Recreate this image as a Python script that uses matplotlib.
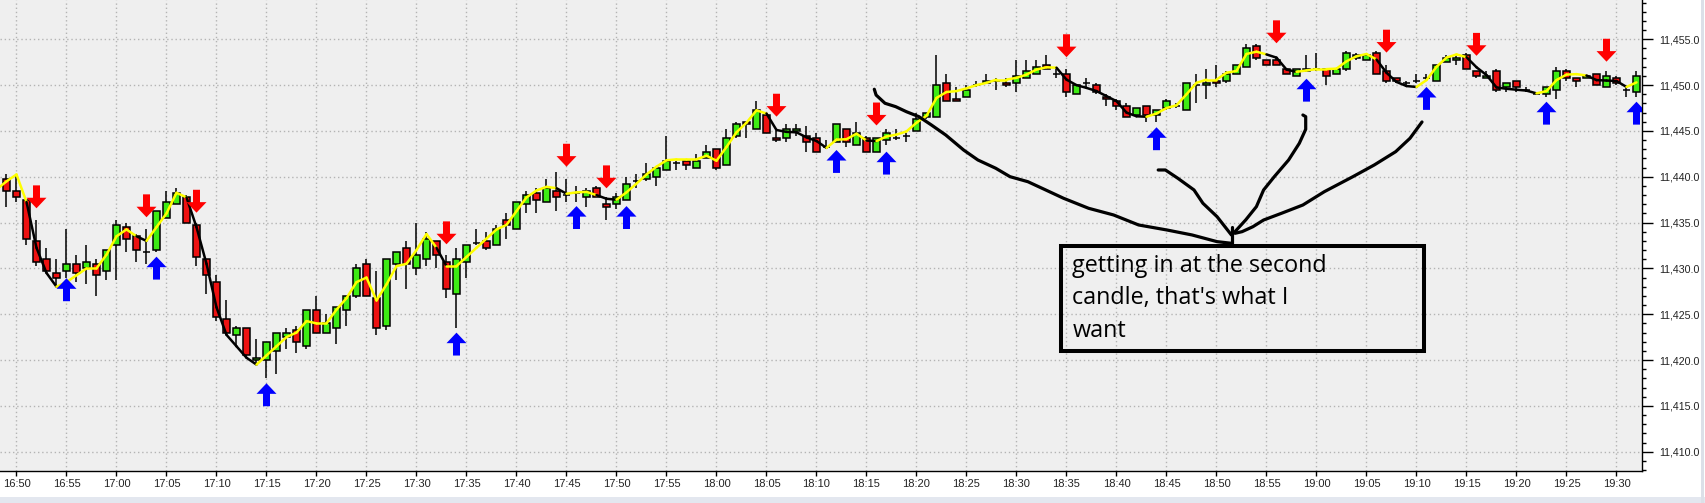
import matplotlib.pyplot as plt
from matplotlib.collections import LineCollection
from matplotlib.patches import Rectangle, Polygon
from matplotlib.ticker import FixedLocator, MultipleLocator, FuncFormatter

# Datos: una vela por minuto, minuto 0 = 16:50

minutes = list(range(-1, 163))

opens = [
    11439.75, 11438.5, 11437.5, 11433, 11431, 11429.5, 11429.75, 11430.5, 11430, 11430.5,
    11429.75, 11432.5, 11434.5, 11433.5, 11431.75, 11432, 11435.5, 11437, 11437.75, 11434.75,
    11431, 11428.5, 11424.5, 11422.75, 11423.5, 11420, 11420, 11421, 11422.5, 11423.25,
    11421.5, 11425.5, 11423, 11423.5, 11425.5, 11427, 11430.5, 11426.75, 11423.75, 11430.5,
    11432.25, 11430, 11431, 11433, 11430.75, 11427.25, 11430.75, 11432.75, 11433, 11432.5,
    11435.25, 11434.25, 11437, 11438.25, 11437.25, 11438.5, 11438, 11438.25, 11437.75, 11438.75,
    11437, 11437, 11437.5, 11439.5, 11439.75, 11440, 11440.75, 11441.5, 11441.75, 11441,
    11442, 11443, 11441.25, 11444.5, 11446, 11445.25, 11446.75, 11444.25, 11444.25, 11445,
    11444.5, 11444.25, 11443.25, 11443.75, 11445.25, 11443.5, 11444.25, 11442.75, 11444, 11444.25,
    11444.5, 11445, 11446.5, 11446.5, 11450.25, 11448.5, 11448.75, 11450, 11450.25, 11450.5,
    11450.25, 11450.25, 11450.75, 11451.25, 11452.25, 11451.25, 11451.25, 11449, 11450.25, 11450,
    11448.75, 11448.25, 11447.75, 11446.75, 11447.75, 11446.75, 11447.5, 11447.75, 11447.25, 11450,
    11450, 11450.5, 11450.5, 11451.25, 11452, 11454.25, 11452.75, 11452.75, 11451.75, 11451,
    11451.5, 11451.75, 11451.75, 11451.25, 11451.75, 11453, 11452.75, 11453.5, 11451.5, 11450.75,
    11450.25, 11450.5, 11450.75, 11450.5, 11452.5, 11452.75, 11453.25, 11451.5, 11450.75, 11451.5,
    11449.75, 11450.5, 11449.5, 11449, 11449, 11449.5, 11451.5, 11450.75, 11450.75, 11451.25,
    11449.75, 11450.75, 11449.5, 11449.25,
]
highs = [
    11440.25, 11440.25, 11437.5, 11435.25, 11432.25, 11431, 11434.25, 11431.5, 11432.5, 11431,
    11432, 11435.25, 11435, 11433.75, 11434.25, 11436.25, 11438.5, 11438.75, 11438, 11435,
    11431, 11429.25, 11426.5, 11423.75, 11423.5, 11422.25, 11422, 11423, 11423.5, 11423.75,
    11425.5, 11427, 11425, 11425.75, 11427, 11430.5, 11431, 11429.75, 11431, 11431.75,
    11433, 11435, 11434, 11433, 11431.5, 11432.25, 11432.5, 11434.25, 11434, 11434.75,
    11436, 11437.25, 11438.5, 11438.75, 11439.75, 11440.5, 11439.75, 11439, 11438.75, 11439,
    11437.75, 11438.25, 11440, 11440.25, 11441.5, 11441, 11444.5, 11441.75, 11441.75, 11442.5,
    11443.5, 11443, 11445.25, 11446, 11446, 11448.25, 11446.75, 11445, 11445.75, 11445.75,
    11445.5, 11444.75, 11444, 11445.75, 11445.25, 11446, 11444.5, 11444.25, 11445.25, 11445.25,
    11444.75, 11447, 11447, 11453.25, 11451.25, 11449.75, 11450, 11450.5, 11451.25, 11450.75,
    11450.75, 11452.75, 11452.75, 11452.75, 11453.25, 11452, 11451.75, 11450, 11450.75, 11450.25,
    11449, 11448.5, 11448, 11447.5, 11447.75, 11447.25, 11448.5, 11448, 11450.25, 11451.25,
    11451.75, 11452.25, 11451.5, 11452.25, 11454.5, 11454.5, 11452.75, 11453, 11451.75, 11451.75,
    11453.25, 11453.5, 11451.75, 11451.75, 11453.75, 11453.5, 11453.5, 11453.75, 11452.25, 11450.75,
    11450.5, 11451.25, 11451.25, 11452.25, 11453.25, 11453.25, 11453.5, 11451.5, 11451.5, 11451.75,
    11450.25, 11450.5, 11449.75, 11449.25, 11449.75, 11452, 11451.75, 11450.75, 11451, 11451.25,
    11451.5, 11451, 11449.75, 11451.5,
]
lows = [
    11436.75, 11437.25, 11432.5, 11430.25, 11429.75, 11428, 11429, 11428.5, 11428.25, 11427,
    11428.75, 11428.75, 11431.75, 11430.75, 11430.5, 11431.75, 11435.5, 11437, 11435, 11430.25,
    11427.25, 11424.25, 11422.75, 11421.5, 11420.25, 11419.5, 11418, 11418.5, 11421.25, 11420.75,
    11421.25, 11423, 11423, 11421.75, 11423.75, 11426.75, 11427, 11422.75, 11423.25, 11428.75,
    11427.75, 11429.25, 11430.25, 11430, 11426.75, 11423.5, 11429, 11432.5, 11432, 11432.5,
    11433.25, 11434.25, 11436, 11436, 11437.25, 11436.25, 11437.25, 11437.25, 11436.75, 11437.75,
    11435.25, 11436.5, 11437.5, 11438.75, 11439.5, 11439, 11440.75, 11440.75, 11440.75, 11441,
    11442, 11440.75, 11441.25, 11444.25, 11444.25, 11445.25, 11444.75, 11443.75, 11443.75, 11444.5,
    11442.75, 11442.75, 11443, 11443.75, 11443.25, 11443.5, 11442.75, 11442.75, 11443.5, 11444,
    11443.75, 11445, 11446.25, 11446.5, 11448.25, 11448.25, 11448.75, 11449.75, 11450.25, 11449.5,
    11449.75, 11449.25, 11450.75, 11451.25, 11451.75, 11450.75, 11448.75, 11449, 11449.75, 11449,
    11447.75, 11447.25, 11446.5, 11446.5, 11446, 11446, 11447.25, 11447.5, 11447.25, 11448,
    11448.5, 11449.75, 11450.25, 11451.25, 11452, 11452.75, 11452.25, 11452.25, 11451.25, 11451,
    11451.5, 11451.5, 11450, 11451.25, 11451.5, 11452.75, 11452.75, 11451.25, 11450.25, 11450.25,
    11449.75, 11450.25, 11450.5, 11450.5, 11452.5, 11452.25, 11451.75, 11450.75, 11450.75, 11449.25,
    11449.25, 11449.25, 11449.25, 11449, 11448.75, 11448.5, 11450.5, 11449.75, 11450.75, 11450,
    11449.75, 11450, 11448.75, 11448.75,
]
closes = [
    11438.5, 11437.75, 11433.25, 11430.75, 11429.75, 11429, 11430.5, 11429.5, 11430.75, 11429.25,
    11432, 11434.75, 11433.25, 11432, 11431.75, 11436.25, 11437.25, 11438.25, 11435, 11431.25,
    11429.25, 11424.75, 11423, 11423.5, 11420.5, 11420.25, 11422, 11423, 11423, 11422,
    11425.5, 11423, 11424, 11425.75, 11427, 11430, 11427, 11423.5, 11431, 11431.75,
    11430.5, 11431.5, 11433.25, 11431.5, 11427.75, 11431, 11432.5, 11432.75, 11432.25, 11434.25,
    11434.75, 11437.25, 11438, 11437.5, 11438.75, 11437.75, 11438, 11438.25, 11438.5, 11437.75,
    11436.75, 11437.75, 11439.25, 11439.5, 11440.25, 11441, 11441.75, 11441.5, 11441.25, 11441.75,
    11442.75, 11441, 11444.25, 11445.75, 11445.75, 11447.25, 11444.75, 11444, 11445.25, 11445.25,
    11443.75, 11442.75, 11443.25, 11445.75, 11443.75, 11444.75, 11442.75, 11444.25, 11444.75, 11444.25,
    11444.5, 11446.25, 11447, 11450, 11448.25, 11448.25, 11449.5, 11450, 11450.5, 11450.5,
    11450, 11451, 11451.5, 11452, 11451.75, 11451.25, 11449.25, 11450, 11450.25, 11449.25,
    11448.5, 11447.75, 11446.5, 11447.5, 11446.75, 11447.25, 11448.25, 11447.75, 11450.25, 11450,
    11450.25, 11450.25, 11451.25, 11452.25, 11454, 11453, 11452.25, 11452.25, 11451.25, 11451.75,
    11451.75, 11451.75, 11451, 11451.75, 11453.5, 11453.25, 11453.25, 11451.25, 11450.5, 11450.5,
    11450.25, 11450.5, 11450.75, 11452.25, 11453, 11453, 11451.75, 11451, 11451, 11449.5,
    11450.25, 11449.75, 11449.5, 11449, 11449.75, 11451.5, 11450.75, 11450.5, 11451, 11450,
    11451, 11450.25, 11449.5, 11451,
]

# Linea suavizada (amarilla subiendo, negra bajando)
line_minutes = list(range(-2, 163))
line_values = [
    11438.6, 11439.5, 11440.25, 11437.25, 11432.25, 11429.5, 11428, 11428.5, 11429.25, 11430,
    11430, 11431.5, 11433.5, 11434.25, 11433.5, 11433, 11434.5, 11436, 11438.25, 11437.75,
    11434.5, 11430.5, 11425.75, 11422.75, 11421.5, 11420.25, 11419.5, 11420.5, 11421.5, 11422.5,
    11423, 11424.25, 11424, 11424, 11425.5, 11426.75, 11428.5, 11429, 11426.5, 11428.25,
    11430.25, 11430.5, 11432, 11433.75, 11432.25, 11430.25, 11430.25, 11431.25, 11432.25, 11433.25,
    11434.25, 11434.75, 11436.25, 11437.75, 11438.5, 11438.9, 11438.75, 11438.15, 11438.3, 11438.35,
    11438, 11437.6, 11437.5, 11438.3, 11439.25, 11440.25, 11441.1, 11441.8, 11441.9, 11441.9,
    11441.9, 11442.3, 11441.75, 11443.25, 11444.85, 11445.9, 11447.25, 11446.9, 11445.1, 11444.9,
    11444.85, 11444.3, 11443.9, 11443.15, 11444.05, 11444.1, 11444.7, 11443.95, 11443.9, 11444.4,
    11444.6, 11444.95, 11445.9, 11446.65, 11448.6, 11449.25, 11449.35, 11449.65, 11450, 11450.25,
    11450.6, 11450.6, 11450.8, 11451.15, 11451.7, 11451.95, 11451.9, 11450.6, 11450, 11449.7,
    11449.35, 11448.8, 11448.25, 11447, 11446.6, 11446.55, 11446.9, 11447.5, 11447.8, 11449,
    11450.25, 11450.6, 11450.6, 11451.35, 11451.55, 11453.4, 11453.65, 11453.35, 11453, 11451.7,
    11451.45, 11451.6, 11451.75, 11451.75, 11451.8, 11452.6, 11453.15, 11453.4, 11452.8, 11451.35,
    11450.35, 11449.9, 11449.8, 11450.55, 11452, 11453, 11453.35, 11453.05, 11451.95, 11451.1,
    11449.75, 11449.6, 11449.5, 11449.4, 11449.1, 11449.35, 11450.55, 11451.15, 11451.2, 11451.05,
    11450.55, 11450.5, 11450.45, 11449.8, 11450.3,
]

# Flechas de senal (minuto, precio de la punta)
sell_minutes = [2, 13, 18, 43, 55, 59, 76, 86, 105, 126, 137, 146, 159]
sell_tips = [11436.56, 11435.58, 11436.08, 11432.63, 11441.1, 11438.74, 11446.56, 11445.6,
             11453.05, 11454.57, 11453.55, 11453.2, 11452.56]
buy_minutes = [5, 14, 25, 44, 56, 61, 82, 87, 114, 129, 141, 153, 162]
buy_tips = [11428.92, 11431.28, 11417.46, 11422.99, 11436.8, 11436.8, 11442.92, 11442.74,
            11445.4, 11450.7, 11449.8, 11448.19, 11448.19]

# Anotacion dibujada a mano (minuto, precio)
stroke_a = [(85.78, 11449.55), (85.96, 11448.92), (86.85, 11448.02), (87.92, 11447.65),
            (88.99, 11447.1), (90.24, 11446.56), (91.49, 11445.65), (92.92, 11444.56),
            (94.71, 11442.92), (96.14, 11441.83), (97.92, 11440.93), (99.35, 11440.01),
            (101.14, 11439.46), (102.92, 11438.56), (104.71, 11437.65), (107.21, 11436.56),
            (109.71, 11435.83), (112.21, 11434.74), (115.05, 11434.19), (117.55, 11433.65),
            (120.05, 11432.92), (121.49, 11432.74)]
stroke_b = [(114.17, 11440.74), (114.89, 11440.74), (116.14, 11439.83), (117.75, 11438.56),
            (118.64, 11437.11), (120.06, 11435.64), (121.49, 11433.65)]
stroke_c = [(128.64, 11446.74), (128.92, 11446.56), (128.92, 11445.18), (128.28, 11443.65),
            (127.21, 11441.83), (125.78, 11440.01), (124.71, 11438.56), (123.99, 11436.74),
            (122.92, 11435.29), (121.85, 11434.01)]
stroke_d = [(140.55, 11445.98), (139.35, 11444.2), (137.92, 11442.74), (135.78, 11441.29),
            (133.64, 11440.01), (130.78, 11438.37), (128.64, 11436.92), (126.49, 11436.01),
            (124.71, 11435.28), (123.64, 11434.55), (122.56, 11434.01), (121.85, 11433.83)]
stroke_tick = [(121.6, 11434.55), (121.6, 11432.74)]
note_lines = ["getting in at the second", "candle, that's what I", "want"]

GREEN = '#3DEB14'
RED = '#EE1111'
BG = '#EFEFEF'


def arrow_shape(m, tip, direction):
    # direction = -1 apunta hacia abajo, +1 hacia arriba
    shaft, head, head_len, total = 0.35, 1.0, 1.15, 2.5
    base = tip - direction * head_len
    tail = tip - direction * total
    return [(m, tip), (m + head, base), (m + shaft, base), (m + shaft, tail),
            (m - shaft, tail), (m - shaft, base), (m - head, base)]


fig = plt.figure(figsize=(17.06, 5.03), dpi=100)
ax = fig.add_axes([0, 32 / 503, 1642 / 1706, 471 / 503])
ax.set_facecolor(BG)
ax.set_xlim(-1.65, 162.55)
ax.set_ylim(11407.89, 11459.29)

# velas
ax.vlines(minutes, lows, highs, color='black', linewidth=1.1, zorder=2)
body_colors = [GREEN if c > o else RED for o, c in zip(opens, closes)]
ax.bar(minutes, [c - o for o, c in zip(opens, closes)], bottom=opens, width=0.64,
       color=body_colors, edgecolor='black', linewidth=1.1, zorder=3)

# linea: negra solo si baja dos tramos seguidos
segments, seg_colors = [], []
for i in range(len(line_values) - 1):
    falling = line_values[i + 1] < line_values[i]
    prev_falling = i > 0 and line_values[i] < line_values[i - 1]
    segments.append([(line_minutes[i], line_values[i]),
                     (line_minutes[i + 1], line_values[i + 1])])
    seg_colors.append('black' if falling and prev_falling else '#FFFF00')
ax.add_collection(LineCollection(segments, colors=seg_colors, linewidths=1.8,
                                 capstyle='round', zorder=4))

# flechas
for m, tip in zip(sell_minutes, sell_tips):
    ax.add_patch(Polygon(arrow_shape(m, tip, -1), closed=True, facecolor='#FF0000',
                         edgecolor='none', zorder=5))
for m, tip in zip(buy_minutes, buy_tips):
    ax.add_patch(Polygon(arrow_shape(m, tip, 1), closed=True, facecolor='#0000FF',
                         edgecolor='none', zorder=5))

# dibujo a mano y recuadro
for stroke in [stroke_a, stroke_b, stroke_c, stroke_d, stroke_tick]:
    xs, ys = zip(*stroke)
    ax.plot(xs, ys, color='black', linewidth=2.3, solid_capstyle='round',
            solid_joinstyle='round', zorder=6)
ax.add_patch(Rectangle((104.48, 11420.96), 140.75 - 104.48, 11432.41 - 11420.96,
                       fill=False, edgecolor='black', linewidth=2.9, zorder=6))
for k, txt in enumerate(note_lines):
    ax.annotate(txt, xy=(105.6, 11429.64), xytext=(0, -23.4 * k),
                textcoords='offset points', va='baseline', ha='left',
                fontsize=16.8, family='Open Sans', color='black', zorder=7)

# ejes
for side in ['left', 'top']:
    ax.spines[side].set_visible(False)
ax.spines['right'].set_linewidth(1)
ax.spines['bottom'].set_linewidth(1)

ax.yaxis.tick_right()
ax.yaxis.set_major_locator(MultipleLocator(5))
ax.yaxis.set_minor_locator(MultipleLocator(1))
ax.yaxis.set_major_formatter(FuncFormatter(lambda v, p: f'{v:,.1f}'))
ax.tick_params(axis='y', which='major', length=8, width=1, pad=4.5,
               labelsize=7.7, labelcolor='#222222')
ax.tick_params(axis='y', which='minor', length=3.2, width=1)

x_ticks = list(range(0, 161, 5))
ax.xaxis.set_major_locator(FixedLocator(x_ticks))
ax.set_xticklabels([f'{(1010 + m) // 60}:{(1010 + m) % 60:02d}' for m in x_ticks])
ax.tick_params(axis='x', length=3.8, width=1, pad=1.8, labelsize=8,
               labelcolor='#222222')
for lbl in ax.get_xticklabels() + ax.get_yticklabels():
    lbl.set_family('Liberation Sans')

ax.grid(True, which='major', color='#B4B4B4', linestyle=(0, (1, 2)), linewidth=1)
ax.set_axisbelow(True)

# franja inferior y borde derecho de la ventana
fig.patches.append(Rectangle((0, 0), 1, 6 / 503, transform=fig.transFigure,
                             facecolor='#E3E7EF', edgecolor='none'))
fig.patches.append(Rectangle((1701 / 1706, 0), 3 / 1706, 1, transform=fig.transFigure,
                             facecolor='#DCE0E8', edgecolor='none'))

plt.savefig('out.png', dpi=100, facecolor='white')
